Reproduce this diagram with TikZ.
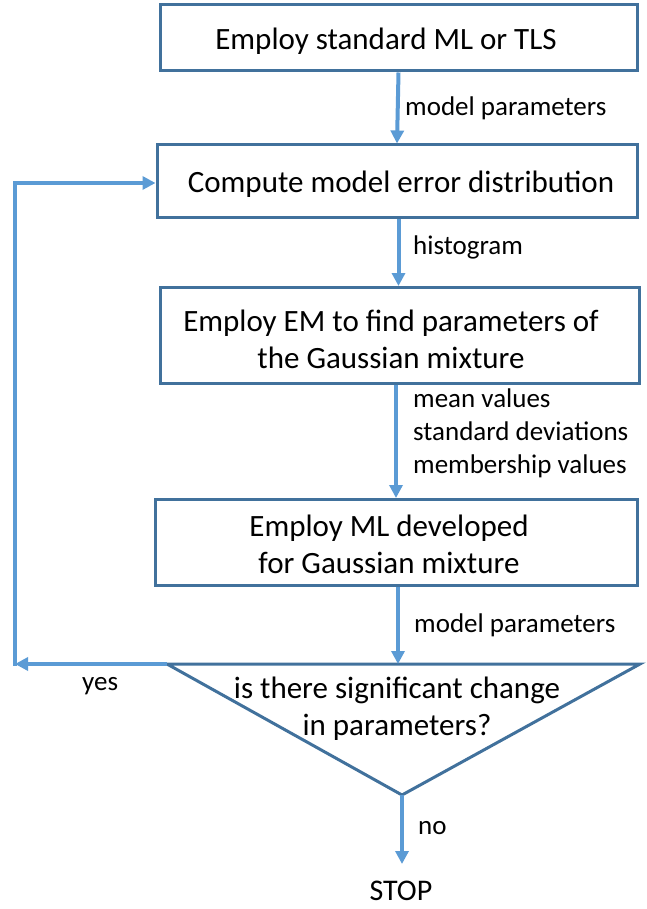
\documentclass[tikz,border=0pt]{standalone}
\usepackage{fontspec}
\setmainfont{Carlito}
\usetikzlibrary{arrows.meta}
\definecolor{boxline}{HTML}{41719C}
\definecolor{arrowc}{HTML}{5B9BD5}
\begin{document}
\begin{tikzpicture}[x=1pt,y=-1pt,
  procbox/.style={draw=boxline, line width=3pt, fill=white, inner sep=0pt},
  boxtext/.style={inner sep=0pt, align=center, font=\fontsize{31}{37}\selectfont},
  flow/.style={draw=arrowc, line width=4pt, -{Triangle[length=13pt,width=13pt]}},
  flowline/.style={draw=arrowc, line width=4pt},
  lbl/.style={anchor=west, inner sep=0pt, font=\fontsize{27}{33}\selectfont},
  ]
\useasboundingbox (0,0) rectangle (646,909);

\node[procbox, minimum width=477pt, minimum height=66pt] (b1) at (398.5,38) {};
\node[boxtext] (t1) at (386,41) {Employ standard ML or TLS};
\node[procbox, minimum width=480pt, minimum height=73pt] (b2) at (397,181.5) {};
\node[boxtext] (t2) at (401,184) {Compute model error distribution};
\node[procbox, minimum width=479pt, minimum height=96pt] (b3) at (399.5,335.5) {};
\node[boxtext] (t3) at (391,339) {Employ EM to find parameters of\\the Gaussian mixture};
\node[procbox, minimum width=482pt, minimum height=86pt] (b4) at (396,542.5) {};
\node[boxtext] (t4) at (389,544) {Employ ML developed\\for Gaussian mixture};

% decision triangle
\coordinate (tl) at (167,664);
\coordinate (tr) at (640,664);
\coordinate (ap) at (402,795);
\coordinate (tt) at (398,664);
\draw[boxline, line width=3pt, line join=miter] (tl) -- (tr) -- (ap) -- cycle;
\node[boxtext] (q) at (397,709) {is there significant change\\in parameters?};

% main flow
\draw[flow] (b1.south) -- (b2.north);
\node[lbl] (l1) at (405,108) {model parameters};
\draw[flow] (b2.south -| b1.south) -- (b3.north -| b1.south);
\node[lbl] (l2) at (413,247) {histogram};
\draw[flow] (b3.south -| b4.south) -- (b4.north);
\node[lbl, align=left] (l3) at (413,433) {mean values\\standard deviations\\membership values};
\draw[flow] (b4.south -| tt) -- (tt);
\node[lbl] (l4) at (414,625) {model parameters};

% yes loop
\coordinate (cl) at (15,664);
\coordinate (cu) at (15,183);
\draw[flow] (tl) -- (cl);
\draw[flowline, line cap=rect] (cl) -- (cu);
\draw[flow] (cu) -- (b2.west |- cu);
\node[lbl] (yes) at (82,686) {yes};

% no
\coordinate (stopc) at (402,864);
\draw[flow] (ap) -- (stopc);
\node[lbl] (no) at (418,828) {no};
\node[inner sep=0pt, font=\fontsize{30}{36}\selectfont] (stop) at (401,891) {STOP};
\end{tikzpicture}
\end{document}
